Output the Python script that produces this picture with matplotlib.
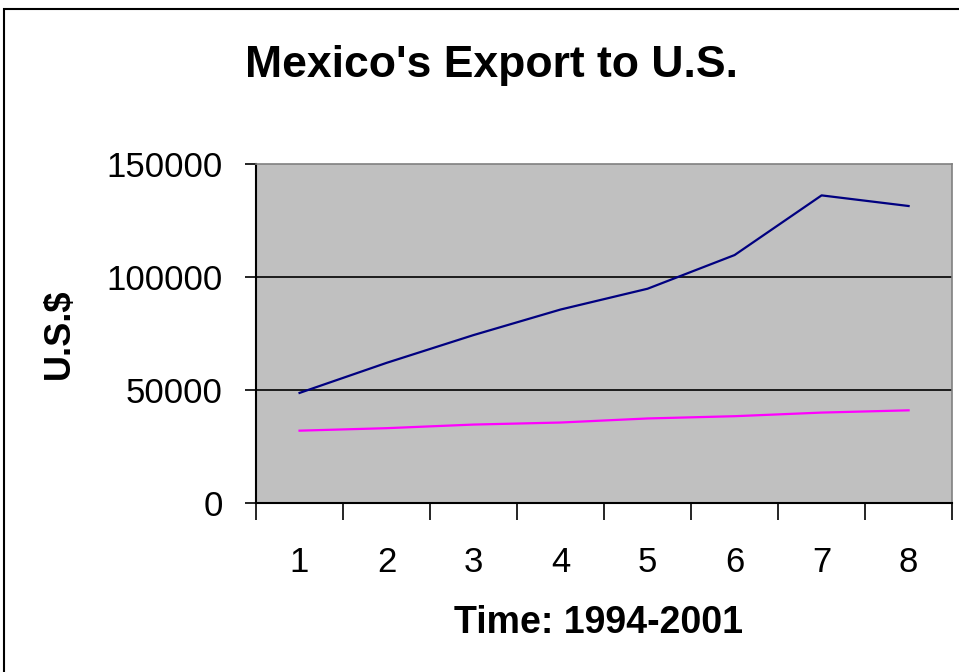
import matplotlib.pyplot as plt
from matplotlib.patches import Rectangle

# datos
periodos = [1, 2, 3, 4, 5, 6, 7, 8]
exportaciones = [48700, 62000, 74300, 85600, 94800, 109700, 136100, 131400]
serie_baja = [32000, 33100, 34700, 35600, 37400, 38400, 40000, 41000]
ticks_y = [0, 50000, 100000, 150000]

plt.rcParams['font.family'] = ['Liberation Sans', 'DejaVu Sans']

fig = plt.figure(figsize=(9.59, 6.72), dpi=100)
ax = fig.add_axes([0.267, 0.2515, 0.7258, 0.5045])

# marco exterior del grafico (recortado a la derecha y abajo)
fig.patches.append(Rectangle((4 / 959, -0.1), 1.2, 1 - 9 / 672 + 0.1,
                             transform=fig.transFigure, fill=False,
                             edgecolor='black', linewidth=1.5))

ax.set_facecolor('#C0C0C0')
ax.plot(periodos, exportaciones, color='#000080', linewidth=1.6, zorder=3)
ax.plot(periodos, serie_baja, color='#FF00FF', linewidth=1.6, zorder=3)

ax.set_xlim(0.5, 8.5)
ax.set_ylim(0, 150000)

# lineas de cuadricula
for v in ticks_y[1:-1]:
    ax.axhline(v, color='black', linewidth=1.2, zorder=2)

ax.set_yticks(ticks_y)
ax.set_yticklabels([str(v) for v in ticks_y], fontsize=25)
ax.tick_params(axis='y', length=8, width=1.2, pad=16)

ax.set_xticks([p - 0.5 for p in periodos] + [8.5])
ax.set_xticklabels([])
ax.tick_params(axis='x', which='major', length=12, width=1.2, direction='out')
ax.set_xticks(periodos, minor=True)
ax.set_xticklabels([str(p) for p in periodos], minor=True, fontsize=25)
ax.tick_params(axis='x', which='minor', length=0, pad=31)

for lado in ['top', 'right']:
    ax.spines[lado].set_color('#808080')
    ax.spines[lado].set_linewidth(1.2)
for lado in ['left', 'bottom']:
    ax.spines[lado].set_color('black')
    ax.spines[lado].set_linewidth(1.5)

fig.text(491 / 959, 1 - 65 / 672, "Mexico's Export to U.S.", ha='center',
         va='center', fontsize=32, fontweight='bold')
fig.text(599 / 959, 1 - 623 / 672, 'Time: 1994-2001', ha='center',
         va='center', fontsize=27, fontweight='bold')
fig.text(59 / 959, 1 - 334 / 672, 'U.S.$', ha='center', va='center',
         rotation=90, fontsize=26, fontweight='bold')

plt.savefig('out.png', dpi=100)
